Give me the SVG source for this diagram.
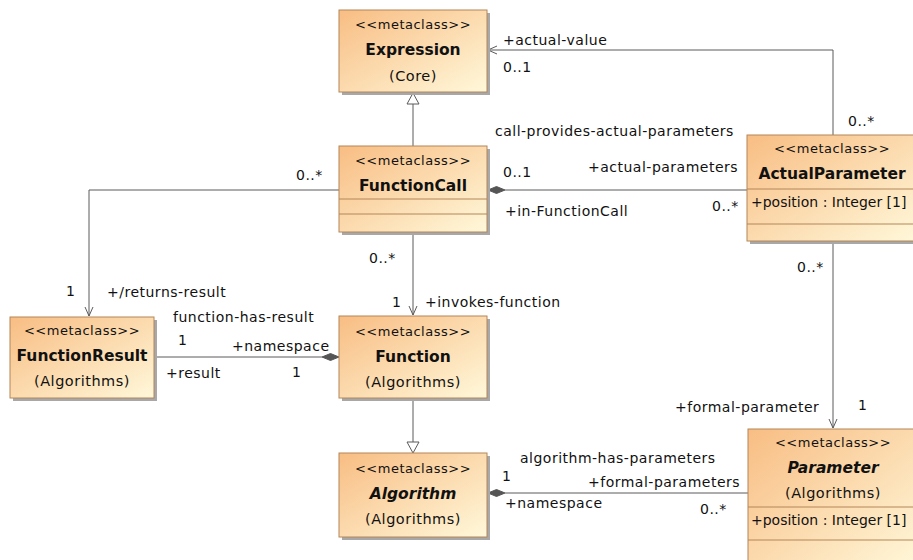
<svg xmlns="http://www.w3.org/2000/svg" width="913" height="560" viewBox="0 0 913 560">
<defs>
<linearGradient id="g" x1="0" y1="0" x2="1" y2="1">
<stop offset="0" stop-color="#F8BD83"/>
<stop offset="1" stop-color="#FFF8DA"/>
</linearGradient>
</defs>
<style>
.box{fill:url(#g);stroke:#B48658;stroke-width:1}
.sh{fill:#A8A8A8}
.sep{stroke:#B48658;stroke-width:1}
text{font-family:"DejaVu Sans",Verdana,sans-serif;fill:#111}
.st{font-size:13px;letter-spacing:0.5px;text-anchor:middle}
.nm{font-size:15.5px;font-weight:bold;text-anchor:middle}
.it{font-style:italic}
.pk{font-size:14.5px;letter-spacing:0.5px;text-anchor:middle}
.lb{font-size:14px;letter-spacing:0.5px}
.at{font-size:14px}
.ln{fill:none;stroke:#5a5a5a;stroke-width:1}
.dm{fill:#555;stroke:#555;stroke-width:1}
.tri{fill:#fff;stroke:#5a5a5a;stroke-width:1}
</style>
<rect width="913" height="560" fill="#fff"/>

<g id="connectors">
<!-- FunctionCall generalizes Expression -->
<line class="ln" x1="413" y1="146" x2="413" y2="104"/>
<polygon class="tri" points="413,93 407,104 419,104"/>
<!-- actual-value -->
<polyline class="ln" points="833,135 833,50 488,50"/>
<polyline class="ln" points="497,46 488,50 497,54"/>
<!-- call-provides-actual-parameters -->
<line class="ln" x1="505" y1="190" x2="747" y2="190"/>
<polygon class="dm" points="488,190 496.5,186.5 505,190 496.5,193.5"/>
<!-- returns-result -->
<polyline class="ln" points="339,190 89,190 89,316"/>
<polyline class="ln" points="85,307 89,316 93,307"/>
<!-- invokes-function -->
<line class="ln" x1="413" y1="232" x2="413" y2="315"/>
<polyline class="ln" points="409,306 413,315 417,306"/>
<!-- function-has-result -->
<line class="ln" x1="154" y1="357" x2="322" y2="357"/>
<polygon class="dm" points="339,357 330.5,353.5 322,357 330.5,360.5"/>
<!-- Algorithm generalizes Function -->
<line class="ln" x1="413" y1="398" x2="413" y2="442"/>
<polygon class="tri" points="413,453 407,442 419,442"/>
<!-- algorithm-has-parameters -->
<line class="ln" x1="505" y1="493" x2="748" y2="493"/>
<polygon class="dm" points="488,493 496.5,489.5 505,493 496.5,496.5"/>
<!-- formal-parameter -->
<line class="ln" x1="833" y1="241" x2="833" y2="428"/>
<polyline class="ln" points="829,419 833,428 837,419"/>

<text class="lb" x="503" y="45">+actual-value</text>
<text class="lb" x="503" y="72">0..1</text>
<text class="lb" x="848" y="126">0..*</text>
<text class="lb" x="495" y="136">call-provides-actual-parameters</text>
<text class="lb" x="503" y="177">0..1</text>
<text class="lb" x="588" y="172">+actual-parameters</text>
<text class="lb" x="505" y="216">+in-FunctionCall</text>
<text class="lb" x="712" y="211">0..*</text>
<text class="lb" x="296" y="180">0..*</text>
<text class="lb" x="66" y="296">1</text>
<text class="lb" x="107" y="297">+/returns-result</text>
<text class="lb" x="173" y="322">function-has-result</text>
<text class="lb" x="178" y="345">1</text>
<text class="lb" x="232" y="351">+namespace</text>
<text class="lb" x="166" y="378">+result</text>
<text class="lb" x="292" y="377">1</text>
<text class="lb" x="369" y="263">0..*</text>
<text class="lb" x="392" y="307">1</text>
<text class="lb" x="425" y="307">+invokes-function</text>
<text class="lb" x="797" y="272">0..*</text>
<text class="lb" x="675" y="412">+formal-parameter</text>
<text class="lb" x="858" y="410">1</text>
<text class="lb" x="520" y="463">algorithm-has-parameters</text>
<text class="lb" x="502" y="481">1</text>
<text class="lb" x="588" y="487">+formal-parameters</text>
<text class="lb" x="505" y="508">+namespace</text>
<text class="lb" x="700" y="514">0..*</text>
</g>

<g id="Expression">
<rect class="sh" x="342" y="13" width="148" height="82"/>
<rect class="box" x="339" y="10" width="148" height="82"/>
<text class="st" x="413" y="29">&lt;&lt;metaclass&gt;&gt;</text>
<text class="nm" x="413" y="55">Expression</text>
<text class="pk" x="413" y="81">(Core)</text>
</g>

<g id="FunctionCall">
<rect class="sh" x="342" y="149" width="148" height="86"/>
<rect class="box" x="339" y="146" width="148" height="86"/>
<text class="st" x="413" y="165">&lt;&lt;metaclass&gt;&gt;</text>
<text class="nm" x="413" y="191">FunctionCall</text>
<line class="sep" x1="339" y1="199" x2="487" y2="199"/>
<line class="sep" x1="339" y1="214" x2="487" y2="214"/>
</g>

<g id="ActualParameter">
<rect class="sh" x="750" y="138" width="170" height="106"/>
<rect class="box" x="747" y="135" width="170" height="106"/>
<text class="st" x="832" y="153">&lt;&lt;metaclass&gt;&gt;</text>
<text class="nm" x="832" y="179">ActualParameter</text>
<line class="sep" x1="747" y1="189" x2="917" y2="189"/>
<text class="at" x="751" y="207">+position : Integer [1]</text>
<line class="sep" x1="747" y1="224" x2="917" y2="224"/>
</g>

<g id="FunctionResult">
<rect class="sh" x="13" y="320" width="144" height="81"/>
<rect class="box" x="10" y="317" width="144" height="81"/>
<text class="st" x="82" y="335">&lt;&lt;metaclass&gt;&gt;</text>
<text class="nm" x="82" y="361">FunctionResult</text>
<text class="pk" x="82" y="386">(Algorithms)</text>
</g>

<g id="Function">
<rect class="sh" x="342" y="319" width="148" height="82"/>
<rect class="box" x="339" y="316" width="148" height="82"/>
<text class="st" x="413" y="336">&lt;&lt;metaclass&gt;&gt;</text>
<text class="nm" x="413" y="362">Function</text>
<text class="pk" x="413" y="387">(Algorithms)</text>
</g>

<g id="Algorithm">
<rect class="sh" x="342" y="456" width="148" height="84"/>
<rect class="box" x="339" y="453" width="148" height="84"/>
<text class="st" x="413" y="473">&lt;&lt;metaclass&gt;&gt;</text>
<text class="nm it" x="413" y="499">Algorithm</text>
<text class="pk" x="413" y="524">(Algorithms)</text>
</g>

<g id="Parameter">
<rect class="sh" x="751" y="432" width="170" height="140"/>
<rect class="box" x="748" y="429" width="170" height="140"/>
<text class="st" x="833" y="447">&lt;&lt;metaclass&gt;&gt;</text>
<text class="nm it" x="833" y="473">Parameter</text>
<text class="pk" x="833" y="498">(Algorithms)</text>
<line class="sep" x1="748" y1="507" x2="918" y2="507"/>
<text class="at" x="751" y="525">+position : Integer [1]</text>
<line class="sep" x1="748" y1="540" x2="918" y2="540"/>
</g>
</svg>
